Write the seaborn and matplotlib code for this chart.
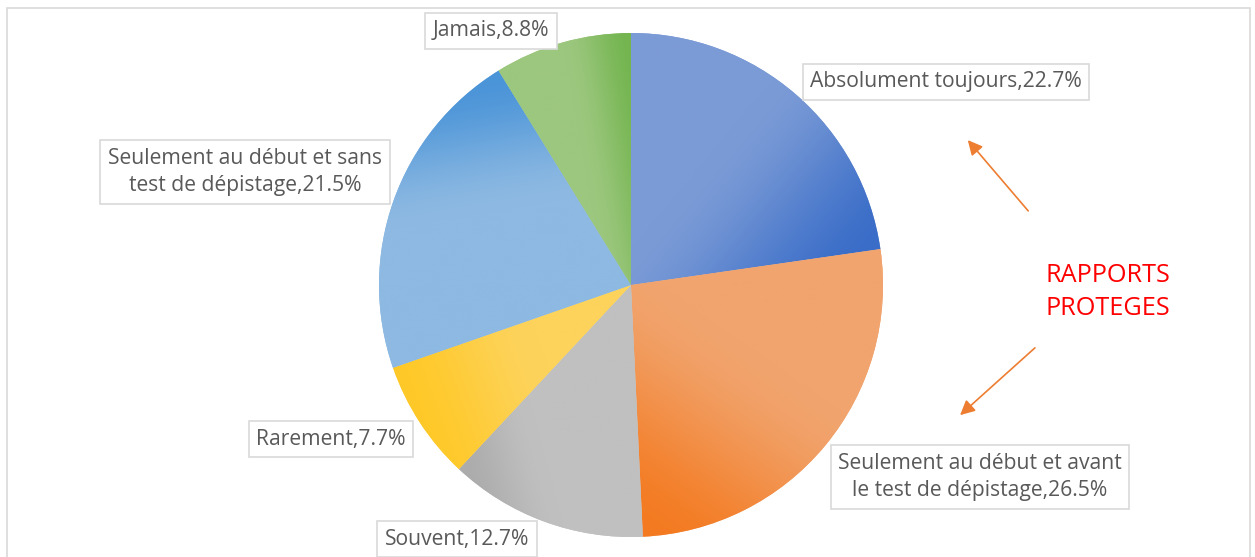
import numpy as np
import matplotlib
matplotlib.use("Agg")
import matplotlib.pyplot as plt
import seaborn as sns
from matplotlib.colors import to_rgb
from matplotlib.patches import Rectangle

# data
categories = [
    "Absolument toujours",
    "Seulement au début et avant\nle test de dépistage",
    "Souvent",
    "Rarement",
    "Seulement au début et sans\ntest de dépistage",
    "Jamais",
]
shares = [22.7, 26.5, 12.7, 7.7, 21.5, 8.8]
light_colors = ["#7b9bd6", "#f1a46e", "#c0c0c0", "#fdd35c", "#8db9e2", "#9cc77e"]
dark_colors = ["#3a6dc8", "#f47a20", "#acacac", "#ffc928", "#4a94d8", "#74b550"]
grad_dirs = [-40, -125, 195, 200, 100, 10]
grad_start = [0.42, 0.42, 0.6, 0.42, 0.5, 0.5]

W, H = 1255, 557

sns.set_style("white")
plt.rcParams["font.family"] = ["Open Sans", "DejaVu Sans"]


def px(x, y):
    # reference pixel position -> data coords (y up)
    return x, H - y


def fill_gradient(ax, wedge, light, dark, direction, start):
    cx, cy = wedge.center
    r = wedge.r
    n = 500
    xs = np.linspace(cx - r, cx + r, n)
    ys = np.linspace(cy - r, cy + r, n)
    X, Y = np.meshgrid(xs, ys)
    a = np.deg2rad(direction)
    proj = (X - cx) * np.cos(a) + (Y - cy) * np.sin(a)
    th = np.degrees(np.arctan2(Y - cy, X - cx))
    span = (wedge.theta2 - wedge.theta1) % 360 or 360
    inside = ((X - cx) ** 2 + (Y - cy) ** 2 <= r * r) & ((th - wedge.theta1) % 360 <= span)
    lo, hi = proj[inside].min(), proj[inside].max()
    t = np.clip(((proj - lo) / (hi - lo) - start) / (1 - start), 0, 1)
    t = t * t * (3 - 2 * t)
    c0, c1 = np.array(to_rgb(light)), np.array(to_rgb(dark))
    img = (1 - t)[..., None] * c0 + t[..., None] * c1
    ax.imshow(img, extent=(cx - r, cx + r, cy - r, cy + r), origin="lower",
              clip_path=wedge, zorder=2, interpolation="bilinear")


fig = plt.figure(figsize=(W / 100, H / 100), dpi=100)
ax = fig.add_axes([0, 0, 1, 1])

wedges, _ = ax.pie(shares, colors=light_colors, startangle=90, counterclock=False,
                   radius=252, center=px(631, 285), frame=False,
                   wedgeprops=dict(linewidth=0))
for w, lc, dc, d, s in zip(wedges, light_colors, dark_colors, grad_dirs, grad_start):
    fill_gradient(ax, w, lc, dc, d, s)

# data labels, placed where the reference has them
label_pos = [(946, 82), (980, 477), (457, 539), (331, 439), (245, 172), (491, 31)]
for cat, val, (x, y) in zip(categories, shares, label_pos):
    ax.text(*px(x, y), f"{cat},{val}%", ha="center", va="center", fontsize=15.2,
            color="#595959", linespacing=1.38, zorder=5,
            bbox=dict(boxstyle="square,pad=0.36", fc="white", ec="#d9d9d9", lw=1.2))

# annotation
ax.text(*px(1045, 292), "RAPPORTS\nPROTEGES", ha="left", va="center", fontsize=18.2,
        color="#ff0000", linespacing=1.45, zorder=5)
arrow = dict(arrowstyle="-|>", color="#ed7d31", lw=1.2, mutation_scale=22)
ax.annotate("", xy=px(966, 138), xytext=px(1030, 213), arrowprops=arrow)
ax.annotate("", xy=px(958, 417), xytext=px(1037, 346), arrowprops=arrow)

# chart frame
ax.add_patch(Rectangle(px(7, 580), 1243, 572, fill=False, ec="#d9d9d9", lw=1.2, zorder=6))

ax.set_xlim(0, W)
ax.set_ylim(0, H)
ax.set_aspect("equal")
ax.axis("off")

fig.savefig("out.png", dpi=100)
